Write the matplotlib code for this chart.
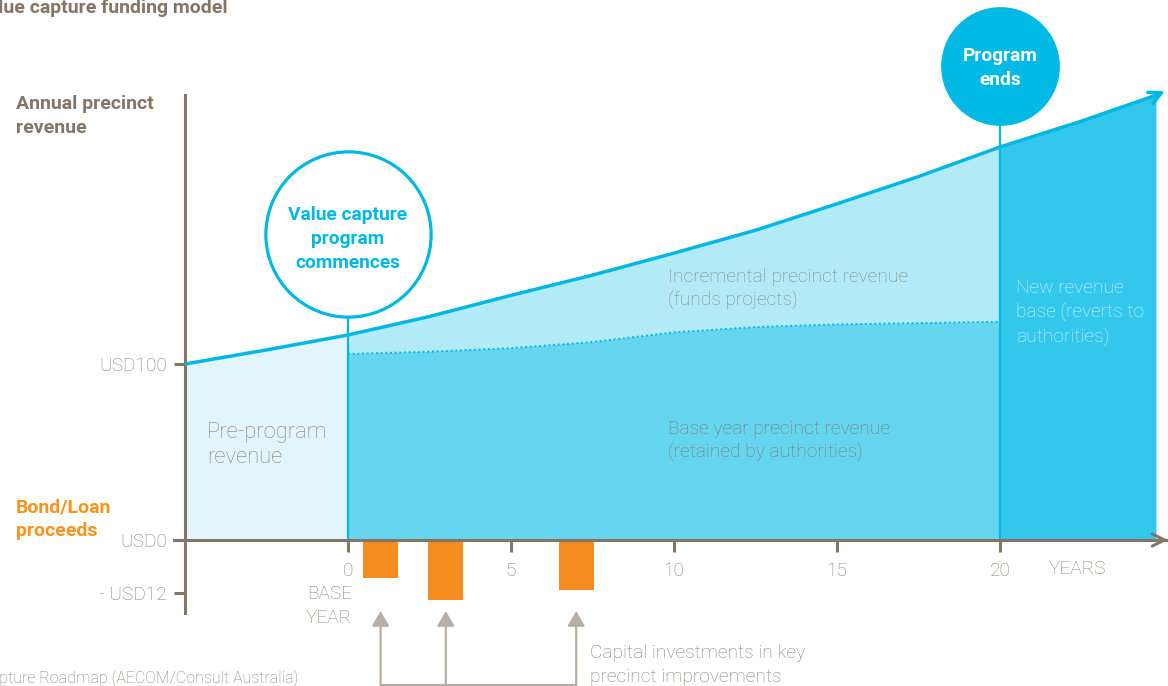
import matplotlib
matplotlib.use("Agg")
import matplotlib.pyplot as plt

# revenue curve (drawn units, USD100 = 100)
curve_years = [-5, -2.5, 0, 2.5, 5, 7.5, 10, 12.5, 15, 17.5, 20, 22.5, 24.8]
curve_revenue = [100, 108, 116.5, 127, 139, 150.5, 163, 176, 191, 206.5, 223.3, 238, 252.8]

# base year revenue (dotted line) during program
base_years = [0, 2.5, 5, 7.5, 10, 12.5, 15, 20]
base_revenue = [105.7, 107, 109, 112.5, 118, 121, 122.5, 124]

# bond / loan proceeds (drawn units)
bond_years = [1, 3, 7]
bond_proceeds = [-21.6, -34.1, -28.4]

x_ticks = [0, 5, 10, 15, 20]
y_ticks = [-30, 0, 100]
y_tick_labels = ["- USD12", "USD0", "USD100"]

W, H = 1168, 686
brown = "#857564"
txt = "#8a7d71"
cyan = "#00b8e3"
orange = "#f68b1f"
arrow_col = "#b7aea4"
fs = 13.8

plt.rcParams["font.family"] = ["Roboto", "DejaVu Sans"]

fig = plt.figure(figsize=(W / 100, H / 100), dpi=100)
ax = fig.add_axes([0, 0, 1, 1])
ax.set_xlim(-348 / 32.6, 820 / 32.6)
ax.set_ylim(-146 / 1.76, 540 / 1.76)

def fx(px):
    return px / W

def fy(py):
    return 1 - py / H

# fills
i0 = curve_years.index(0)
i20 = curve_years.index(20)
ax.fill(curve_years[:i0 + 1] + [0, -5], curve_revenue[:i0 + 1] + [0, 0],
        color="#e3f5fc", lw=0, zorder=1)
ax.fill(curve_years[i0:i20 + 1] + base_years[::-1],
        curve_revenue[i0:i20 + 1] + base_revenue[::-1],
        color="#b3eaf7", lw=0, zorder=1)
ax.fill(base_years + [20, 0], base_revenue + [0, 0],
        color="#66d5ef", lw=0, zorder=1)
ax.fill(curve_years[i20:] + [curve_years[-1], 20], curve_revenue[i20:] + [0, 0],
        color="#33c8eb", lw=0, zorder=1)

ax.plot(base_years, base_revenue, color=cyan, lw=1.4, ls=(0, (1, 1.4)), zorder=2)
ax.plot(curve_years, curve_revenue, color=cyan, lw=2.5, zorder=3,
        solid_capstyle="butt", solid_joinstyle="round")
ax.annotate("", xy=(25.06, 255.1), xytext=(curve_years[-1], curve_revenue[-1]),
            arrowprops=dict(arrowstyle="->", color=cyan, lw=2.5,
                            mutation_scale=22, shrinkA=0, shrinkB=0), zorder=3)

# program markers
ax.plot([0, 0], [0, 172], color=cyan, lw=1.6, zorder=2)
ax.plot([20, 20], [0, 268], color=cyan, lw=1.6, zorder=2)
ax.plot(0, (540 - 234) / 1.76, "o", ms=119, mfc="white", mec=cyan, mew=2.3, zorder=4)
ax.plot(20, (540 - 66) / 1.76, "o", ms=84.5, mfc="#00b9e4", mec="#00b9e4", zorder=4)
ax.text(0, (540 - 239) / 1.76, "Value capture\nprogram\ncommences", ha="center",
        va="center", color=cyan, fontsize=13.8, fontweight="bold",
        linespacing=1.42, zorder=5)
ax.text(20, (540 - 68) / 1.76, "Program\nends", ha="center", va="center",
        color="white", fontsize=13.8, fontweight="bold", linespacing=1.38, zorder=5)

# bond / loan bars
ax.bar(bond_years, bond_proceeds, width=1.07, color=orange, zorder=2)

# axes
for s in ["top", "right"]:
    ax.spines[s].set_visible(False)
ax.spines["left"].set_position(("data", -5))
ax.spines["left"].set_bounds(-41.5, 253)
ax.spines["bottom"].set_position(("data", 0))
ax.spines["bottom"].set_bounds(-5.35, 25.1)
for s in ["left", "bottom"]:
    ax.spines[s].set_color(brown)
    ax.spines[s].set_linewidth(2.2)
ax.annotate("", xy=(25.15, 0), xytext=(24.9, 0),
            arrowprops=dict(arrowstyle="->", color=brown, lw=2.2,
                            mutation_scale=22, shrinkA=0, shrinkB=0))

ax.set_xticks(x_ticks)
ax.set_xticklabels([str(t) for t in x_ticks])
ax.set_yticks(y_ticks)
ax.set_yticklabels(y_tick_labels)
ax.tick_params(axis="x", direction="out", length=8.6, width=2.2, color=brown,
               labelcolor=txt, labelsize=fs, pad=7)
ax.tick_params(axis="y", direction="out", length=8, width=2.2, color=brown,
               labelcolor=txt, labelsize=fs, pad=5)
for lab in ax.get_xticklabels() + ax.get_yticklabels():
    lab.set_fontweight("light")

# bottom arrows to bars
arrow_y = (540 - 685) / 1.76
tip_y = (540 - 611) / 1.76
ax.plot([bond_years[0], bond_years[-1]], [arrow_y, arrow_y], color=arrow_col, lw=1.6)
for bx in bond_years:
    ax.annotate("", xy=(bx, tip_y), xytext=(bx, arrow_y),
                arrowprops=dict(arrowstyle="-|>,head_width=0.35,head_length=0.6",
                                color=arrow_col, lw=1.6, mutation_scale=15,
                                shrinkA=0, shrinkB=0))

# labels
fig.text(fx(228), fy(8), "Value capture funding model", ha="right", va="center",
         color=brown, fontsize=14, fontweight="bold")
fig.text(fx(16), fy(116), "Annual precinct\nrevenue", ha="left", va="center",
         color=brown, fontsize=14, fontweight="bold", linespacing=1.38)
fig.text(fx(16), fy(519), "Bond/Loan\nproceeds", ha="left", va="center",
         color="#f7941d", fontsize=14, fontweight="bold", linespacing=1.38)
fig.text(fx(207), fy(445), "Pre-program\nrevenue", ha="left", va="center",
         color=txt, fontsize=15.8, fontweight="light", linespacing=1.28)
fig.text(fx(668), fy(289), "Incremental precinct revenue\n(funds projects)",
         ha="left", va="center", color="#8b8581", fontsize=fs,
         fontweight="light", linespacing=1.38)
fig.text(fx(668), fy(441), "Base year precinct revenue\n(retained by authorities)",
         ha="left", va="center", color="#7d7a78", fontsize=fs,
         fontweight="light", linespacing=1.36)
fig.text(fx(1016), fy(313), "New revenue\nbase (reverts to\nauthorities)",
         ha="left", va="center", color="#dcf5fc", fontsize=fs,
         fontweight="light", linespacing=1.38)
fig.text(fx(1049), fy(569), "YEARS", ha="left", va="center", color=txt,
         fontsize=fs, fontweight="light")
fig.text(fx(352), fy(606), "BASE\nYEAR", ha="right", va="center", color=txt,
         fontsize=fs, fontweight="light", linespacing=1.38)
fig.text(fx(590), fy(665), "Capital investments in key\nprecinct improvements",
         ha="left", va="center", color=txt, fontsize=fs, fontweight="light",
         linespacing=1.38)
fig.text(fx(298), fy(678), "Source: Value Capture Roadmap (AECOM/Consult Australia)",
         ha="right", va="center", color=txt, fontsize=11.5, fontweight="light")

fig.savefig("out.png", dpi=100)
